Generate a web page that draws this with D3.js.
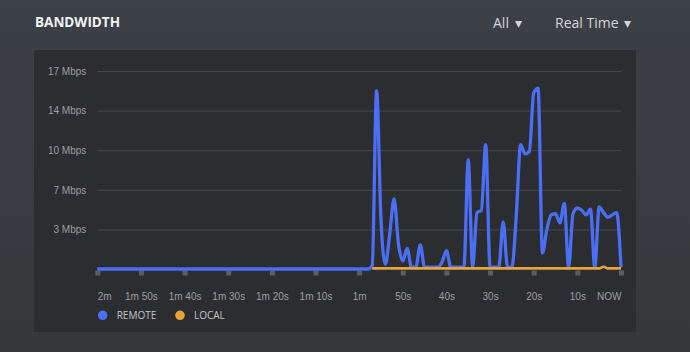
<!DOCTYPE html>
<html>
<head>
<meta charset="utf-8">
<script src="https://cdn.jsdelivr.net/npm/d3@7"></script>
<style>
  body { margin: 0; background: #383a3f; }
  svg { display: block; font-family: "Open Sans", "Noto Sans", sans-serif; }
  .axis path { display: none; }
  .axis text { fill: #9c9ea3; font-size: 10px; }
  .grid line { stroke: #45474c; stroke-width: 1; }
</style>
</head>
<body>
<div id="chart"></div>
<script>
// seconds ago, from 2m back to NOW
const seconds = d3.range(120, -1, -1);

const remote = [
  0,0,0,0,0,0,0,0,0,0, 0,0,0,0,0,0,0,0,0,0,
  0,0,0,0,0,0,0,0,0,0, 0,0,0,0,0,0,0,0,0,0,
  0,0,0,0,0,0,0,0,0,0, 0,0,0,0,0,0,0,0,0,0,
  0,0,0,
  0.3, 15.5, 4.3, 0.4, 3.0, 6.1, 2.2, 0.7, 1.8, 0.15,
  0.15, 2.1, 0.15, 0.15, 0.15, 0.15, 0.6, 1.6, 0.15, 0.15,
  0.15, 0.15, 9.5, 0.15, 4.9, 5.1, 10.8, 0.15, 0.15, 0.15,
  4.1, 0.15, 0.15, 4.6, 10.8, 10.0, 10.2, 15.3, 15.7, 1.4,
  3.4, 4.7, 4.8, 4.0, 5.7, 0.15, 4.8, 5.3, 5.1, 4.7,
  5.2, 0.15, 5.4, 4.9, 4.5, 4.7, 4.9, 0.15
];

const local = [
  null,null,null,null,null,null,null,null,null,null, null,null,null,null,null,null,null,null,null,null,
  null,null,null,null,null,null,null,null,null,null, null,null,null,null,null,null,null,null,null,null,
  null,null,null,null,null,null,null,null,null,null, null,null,null,null,null,null,null,null,null,null,
  null,null,null,
  0.05, 0.05, 0.05, 0.05, 0.05, 0.05, 0.05, 0.05, 0.05, 0.05,
  0.05, 0.05, 0.05, 0.05, 0.05, 0.05, 0.05, 0.05, 0.05, 0.05,
  0.05, 0.05, 0.05, 0.05, 0.05, 0.05, 0.05, 0.05, 0.05, 0.05,
  0.05, 0.05, 0.05, 0.05, 0.05, 0.05, 0.05, 0.05, 0.05, 0.05,
  0.05, 0.05, 0.05, 0.05, 0.05, 0.05, 0.05, 0.05, 0.05, 0.05,
  0.05, 0.05, 0.05, 0.2, 0.05, 0.05, 0.05, 0.05
];

const xTicks = [120, 110, 100, 90, 80, 70, 60, 50, 40, 30, 20, 10, 0];
const xLabels = ["2m", "1m 50s", "1m 40s", "1m 30s", "1m 20s", "1m 10s", "1m", "50s", "40s", "30s", "20s", "10s", "NOW"];
const yTicks = [3.44, 6.88, 10.32, 13.76, 17.2];
const yLabels = ["3 Mbps", "7 Mbps", "10 Mbps", "14 Mbps", "17 Mbps"];

const seriesNames = ["REMOTE", "LOCAL"];
const seriesColors = ["#4a6ff4", "#e3a53a"];

let W = 690, H = 352;
let plot = {left: 97.3, right: 621, top: 71, bottom: 269};

let svg = d3.select("#chart")
  .append("svg")
  .attr("width", W)
  .attr("height", H);

let bg = svg.append("defs").append("linearGradient")
  .attr("id", "bg").attr("x1", 0).attr("y1", 0).attr("x2", 0).attr("y2", 1);
bg.append("stop").attr("offset", "0").attr("stop-color", "#3c4047");
bg.append("stop").attr("offset", "1").attr("stop-color", "#36373a");

svg.append("rect").attr("width", W).attr("height", H).attr("fill", "url(#bg)");

// card
svg.append("rect")
  .attr("x", 34).attr("y", 50)
  .attr("width", 602).attr("height", 282)
  .attr("fill", "#2c2d31");

// header
svg.append("text")
  .attr("x", 35).attr("y", 27)
  .attr("fill", "#f2f3f5")
  .style("font-size", "13.5px")
  .style("font-weight", "bold")
  .text("BANDWIDTH");

svg.append("text")
  .attr("x", 493).attr("y", 27.5)
  .attr("fill", "#d3d6da")
  .style("font-size", "14px")
  .text("All \u2009▾");

svg.append("text")
  .attr("x", 555).attr("y", 27.5)
  .attr("fill", "#d3d6da")
  .style("font-size", "14px")
  .text("Real Time \u2009▾");

let xScale = d3.scaleLinear().domain([120, 0]).range([plot.left, plot.right]);
let yScale = d3.scaleLinear().domain([0, 17.2]).range([plot.bottom, plot.top]);

// gridlines + y labels
let yAxis = d3.axisLeft(yScale)
  .tickValues(yTicks)
  .tickFormat((d, i) => yLabels[i])
  .tickSize(-(plot.right - plot.left))
  .tickPadding(11);

svg.append("g")
  .attr("class", "axis grid")
  .attr("transform", "translate(" + plot.left + ",0)")
  .call(yAxis);

// x axis with small square markers
let xAxis = d3.axisBottom(xScale)
  .tickValues(xTicks)
  .tickFormat((d, i) => xLabels[i])
  .tickSize(0)
  .tickPadding(24);

let xg = svg.append("g")
  .attr("class", "axis")
  .attr("transform", "translate(0," + plot.bottom + ")")
  .call(xAxis);

xg.selectAll(".tick")
  .append("rect")
  .attr("x", -2.5).attr("y", 1.5)
  .attr("width", 5).attr("height", 5)
  .attr("fill", "#5c5e63");

xg.selectAll(".tick text")
  .attr("text-anchor", (d, i) => i == 0 ? "start" : (i == xTicks.length - 1 ? "end" : "middle"));

let line = d3.line()
  .defined(d => d[1] != null)
  .x(d => xScale(d[0]))
  .y(d => yScale(d[1]))
  .curve(d3.curveMonotoneX);

[remote, local].forEach((vals, k) => {
  svg.append("path")
    .datum(seconds.map((s, i) => [s, vals[i]]))
    .attr("fill", "none")
    .attr("stroke", seriesColors[k])
    .attr("stroke-width", k == 0 ? 3.3 : 2.6)
    .attr("stroke-linejoin", "round")
    .attr("d", line);
});

// legend
let legendX = [102.7, 180];
seriesNames.forEach((name, k) => {
  svg.append("circle")
    .attr("cx", legendX[k]).attr("cy", 315.3)
    .attr("r", 4.8)
    .attr("fill", seriesColors[k]);
  svg.append("text")
    .attr("x", legendX[k] + 14).attr("y", 319)
    .attr("fill", "#c3c5c9")
    .style("font-size", "10px")
    .text(name);
});
</script>
</body>
</html>
